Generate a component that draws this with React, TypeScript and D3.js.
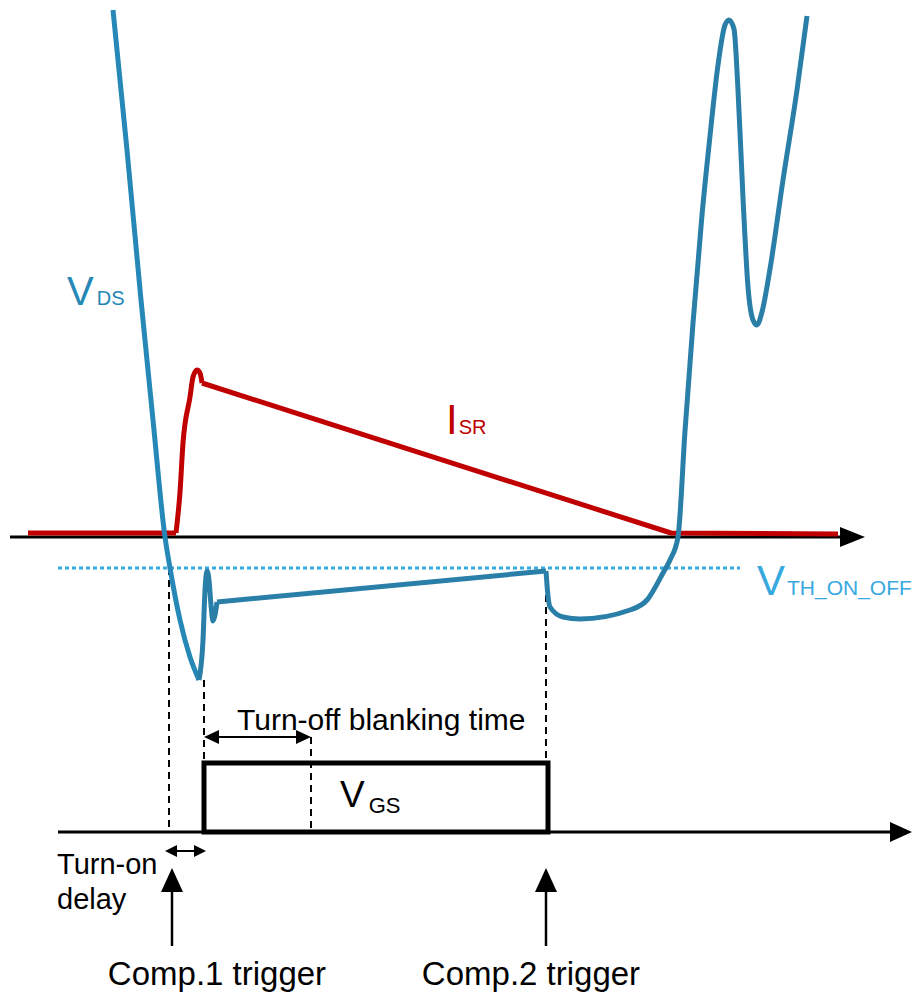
import React from "react";
import * as d3 from "d3";

// time (a.u.) vs level (a.u.)
const vdsFall: [number, number][] = [
  [10.3, 52.7], [11.7, 38.7], [13.1, 23.7], [14.3, 11.7], [15.5, 0],
  [16.0, -3.1], [17.0, -8.3], [18.0, -12.0], [18.9, -14.3],
];
const vdsRing: [number, number][] = [
  [18.9, -14.3], [19.3, -10.3], [19.5, -5.3], [19.7, -3.4], [19.9, -4.3],
  [20.1, -6.8], [20.3, -8.4], [20.5, -7.8], [20.7, -6.5],
];
const vdsPlateau: [number, number][] = [[20.7, -6.5], [53.6, -3.4]];
const vdsRecover: [number, number][] = [
  [53.6, -3.4], [53.7, -4.8], [54.0, -7.0], [55.3, -8.0], [57.0, -8.2],
  [62.0, -7.3], [63.7, -6.3], [65.3, -3.6], [66.0, -2.3], [66.8, 0],
  [67.5, 10.6], [68.3, 21.4], [69.2, 32.2], [70.0, 40.1], [70.8, 47.2],
  [71.5, 51.2], [71.9, 51.7], [72.4, 50.8], [72.8, 44.7], [73.3, 33.9],
  [73.8, 25.0], [74.3, 21.7], [74.7, 21.2], [75.2, 22.5], [76.0, 26.8],
  [77.3, 35.7], [78.7, 44.7], [79.7, 52.1],
];
const isrFlat: [number, number][] = [[1.8, 0.4], [16.6, 0.4]];
const isrRise: [number, number][] = [
  [16.6, 0.4], [17.0, 4.5], [17.3, 9.4], [18.0, 14.0], [18.3, 16.0],
  [18.7, 16.7], [19.0, 16.4], [19.2, 15.4],
];
const isrRamp: [number, number][] = [[19.2, 15.4], [66.1, 0.4], [82.8, 0.3]];

const vthLevel = -3.1;
const vthSpan = [4.8, 73.0];
const axisSpan = [0, 85.5];
const gateAxisSpan = [4.8, 90.2];
const vgsOn = 19.4;
const vgsOff = 53.8;
const blankingEnd = 30.1;
const comp1 = 16.2;
const comp2 = 53.6;
const delaySpan = [15.5, 19.6];

const x = d3.scaleLinear().domain([0, 90]).range([10, 910]);
const y = d3.scaleLinear().domain([0, 50]).range([537, 37]);
const yG = d3.scaleLinear().domain([0, 1]).range([832, 763]);

const mono = d3.line<[number, number]>().x(d => x(d[0])).y(d => y(d[1])).curve(d3.curveMonotoneX);
const lin = d3.line<[number, number]>().x(d => x(d[0])).y(d => y(d[1]));

const FONT = "'Liberation Sans', Arial, sans-serif";
const VDS_C = "#2688b6";
const VDS_C2 = "#2a7fa8";
const ISR_C = "#c00000";
const VTH_C = "#38a9de";

// arrow head polygon: tip point, direction, length, half width
function head(tx: number, ty: number, dir: "l" | "r" | "u", len: number, hw: number) {
  if (dir === "r") return `${tx},${ty} ${tx - len},${ty - hw} ${tx - len},${ty + hw}`;
  if (dir === "l") return `${tx},${ty} ${tx + len},${ty - hw} ${tx + len},${ty + hw}`;
  return `${tx},${ty} ${tx - hw},${ty + len} ${tx + hw},${ty + len}`;
}

export default function App() {
  const dash = { stroke: "#000", strokeWidth: 2, strokeDasharray: "7,5", fill: "none" };
  return (
    <svg width={923} height={996} style={{ position: "absolute", left: 0, top: 0, background: "#fff" }} fontFamily={FONT}>
      {/* main axis */}
      <line x1={x(axisSpan[0])} x2={x(axisSpan[1]) - 20} y1={y(0)} y2={y(0)} stroke="#000" strokeWidth={3} />
      <polygon points={head(x(axisSpan[1]), y(0), "r", 25, 10)} fill="#000" />

      {/* threshold */}
      <line x1={x(vthSpan[0])} x2={x(vthSpan[1])} y1={y(vthLevel)} y2={y(vthLevel)}
        stroke={VTH_C} strokeWidth={3} strokeDasharray="4,3" />

      {/* dashed markers */}
      <line x1={x(15.9)} x2={x(15.9)} y1={y(vthLevel)} y2={yG(0)} {...dash} />
      <line x1={x(vgsOn)} x2={x(vgsOn)} y1={y(-14.3)} y2={yG(1)} {...dash} />
      <line x1={x(blankingEnd)} x2={x(blankingEnd)} y1={737} y2={yG(0)} {...dash} />
      <line x1={x(comp2)} x2={x(comp2)} y1={y(-3.4)} y2={yG(1)} {...dash} />

      {/* ISR */}
      <g fill="none" stroke={ISR_C} strokeWidth={5} strokeLinejoin="round">
        <path d={lin(isrFlat) || ""} />
        <path d={mono(isrRise) || ""} />
        <path d={lin(isrRamp) || ""} />
      </g>

      {/* VDS */}
      <g fill="none" strokeWidth={5} strokeLinejoin="round" strokeLinecap="butt">
        <path d={mono(vdsFall) || ""} stroke={VDS_C} />
        <path d={mono(vdsRing) || ""} stroke={VDS_C2} />
        <path d={lin(vdsPlateau) || ""} stroke={VDS_C2} />
        <path d={mono(vdsRecover) || ""} stroke={VDS_C2} />
      </g>

      {/* gate axis + pulse */}
      <line x1={x(gateAxisSpan[0])} x2={x(gateAxisSpan[1]) - 18} y1={yG(0)} y2={yG(0)} stroke="#000" strokeWidth={3} />
      <polygon points={head(x(gateAxisSpan[1]), yG(0), "r", 22, 10)} fill="#000" />
      <rect x={x(vgsOn)} y={yG(1)} width={x(vgsOff) - x(vgsOn)} height={yG(0) - yG(1)}
        fill="none" stroke="#000" strokeWidth={5} />

      {/* blanking arrow */}
      <line x1={x(vgsOn) + 8} x2={x(blankingEnd) - 8} y1={737} y2={737} stroke="#000" strokeWidth={2} />
      <polygon points={head(x(vgsOn), 737, "l", 15, 7)} fill="#000" />
      <polygon points={head(x(blankingEnd), 737, "r", 15, 7)} fill="#000" />

      {/* turn-on delay arrow */}
      <line x1={x(delaySpan[0]) + 6} x2={x(delaySpan[1]) - 6} y1={851} y2={851} stroke="#000" strokeWidth={2} />
      <polygon points={head(x(delaySpan[0]), 851, "l", 12, 6)} fill="#000" />
      <polygon points={head(x(delaySpan[1]), 851, "r", 12, 6)} fill="#000" />

      {/* comparator triggers */}
      {[comp1, comp2].map((c, i) => (
        <g key={i}>
          <line x1={x(c)} x2={x(c)} y1={885} y2={946} stroke="#000" strokeWidth={2.5} />
          <polygon points={head(x(c), 868, "u", 24, 11)} fill="#000" />
        </g>
      ))}

      {/* labels */}
      <text x={67} y={305} fill={VDS_C} fontSize={40}>V<tspan fontSize={20} dx={3}>DS</tspan></text>
      <text x={446} y={434} fill={ISR_C} fontSize={42}>I<tspan fontSize={20} dx={1}>SR</tspan></text>
      <text x={757} y={595} fill={VTH_C} fontSize={42}>V<tspan fontSize={21} dx={2}>TH_ON_OFF</tspan></text>
      <text x={340} y={807} fill="#000" fontSize={37}>V<tspan fontSize={22} dx={4} dy={6}>GS</tspan></text>
      <text x={237} y={730} fontSize={30} fill="#000">Turn-off blanking time</text>
      <text x={57} y={874} fontSize={29} fill="#000">Turn-on</text>
      <text x={57} y={909} fontSize={29} fill="#000">delay</text>
      <text x={217} y={985} fontSize={33} fill="#000" textAnchor="middle">Comp.1 trigger</text>
      <text x={531} y={985} fontSize={33} fill="#000" textAnchor="middle">Comp.2 trigger</text>
    </svg>
  );
}
